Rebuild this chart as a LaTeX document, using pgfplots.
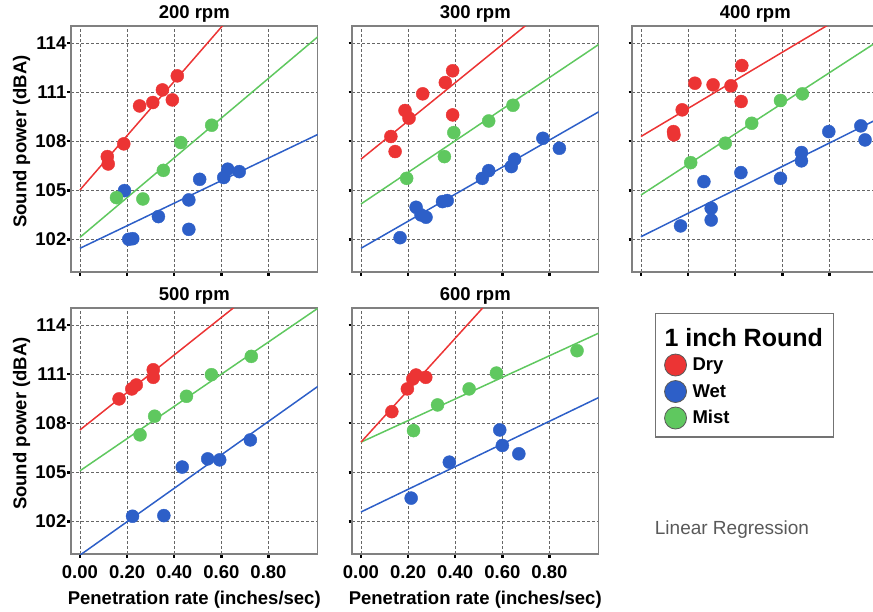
\documentclass[border=0pt]{standalone}
\usepackage{fontspec}
\setmainfont{Liberation Sans}
\usepackage{pgfplots}
\pgfplotsset{compat=1.18}
\definecolor{dry}{RGB}{236,52,52}
\definecolor{wet}{RGB}{45,95,200}
\definecolor{mist}{RGB}{95,200,95}
\newcommand\lbl{\fontsize{18.5}{21}\selectfont\bfseries}

\pgfplotsset{
  panel/.style={
    scale only axis, width=246.5pt, height=246pt, anchor=north west,
    xmin=-0.038, xmax=1.008, ymin=100, ymax=115.05,
    xtick={0,0.2,0.4,0.6,0.8}, ytick={102,105,108,111,114},
    xticklabels={,,,,}, yticklabels={,,,,},
    grid=major,
    major grid style={draw=black!60, line width=0.8pt, dash pattern=on 3pt off 2pt},
    axis line style={draw=black!50, line width=1.2pt},
    tick pos=left, tick align=outside, major tick length=3.5pt,
    tick style={black, line width=2.5pt},
    tick label style={font=\lbl},
    yticklabel style={inner sep=1pt},
    xticklabel style={yshift=-5pt},
    title style={font=\lbl, at={(0.5,1)}, anchor=base, yshift=1.5pt, inner sep=0pt},
    ylabel style={font=\lbl, at={(axis description cs:-0.2,0.53)}, anchor=center},
    xlabel style={font=\lbl, at={(axis description cs:0.5,0)}, anchor=center, yshift=-46pt},
  },
  xlab/.style={xticklabels={0.00,0.20,0.40,0.60,0.80}, xlabel={Penetration rate (inches/sec)}},
  ylab/.style={yticklabels={102,105,108,111,114}, ylabel={Sound power (dBA)}},
  pts/.style={forget plot, only marks, mark=*, mark size=6.5pt, mark options={draw=#1, fill=#1}},
  fit/.style={forget plot, no marks, draw=#1, line width=1.5pt},
}

\begin{document}
\begin{tikzpicture}
\useasboundingbox (0,0) rectangle (873pt,-611pt);

% 200 rpm
\begin{axis}[panel, ylab, at={(71pt,-26pt)}, title={200 rpm}]
\addplot[fit=wet] coordinates {(0,101.45) (1.01,108.42)};
\addplot[fit=mist] coordinates {(0,102.12) (1.01,114.40)};
\addplot[fit=dry] coordinates {(0,105.02) (1.01,121.79)};
\addplot[pts=wet] coordinates {(0.189,104.98)(0.207,102.0)(0.224,102.04)(0.333,103.39)(0.462,104.41)(0.462,102.61)(0.508,105.67)(0.610,105.78)(0.627,106.29)(0.676,106.14)};
\addplot[pts=mist] coordinates {(0.155,104.55)(0.267,104.47)(0.354,106.22)(0.428,107.92)(0.559,108.98)};
\addplot[pts=dry] coordinates {(0.116,107.06)(0.120,106.61)(0.186,107.84)(0.253,110.16)(0.309,110.37)(0.350,111.14)(0.392,110.53)(0.413,112.0)};
\end{axis}

% 300 rpm
\begin{axis}[panel, at={(352pt,-26pt)}, title={300 rpm}]
\addplot[fit=wet] coordinates {(0,101.45) (1.01,109.81)};
\addplot[fit=mist] coordinates {(0,104.16) (1.01,113.93)};
\addplot[fit=dry] coordinates {(0,106.9) (1.01,118.72)};
\addplot[pts=wet] coordinates {(0.166,102.1)(0.234,103.96)(0.255,103.49)(0.276,103.35)(0.346,104.31)(0.366,104.37)(0.515,105.73)(0.542,106.2)(0.638,106.45)(0.652,106.9)(0.772,108.18)(0.842,107.57)};
\addplot[pts=mist] coordinates {(0.194,105.73)(0.354,107.06)(0.394,108.53)(0.542,109.24)(0.645,110.2)};
\addplot[pts=dry] coordinates {(0.127,108.29)(0.145,107.37)(0.187,109.88)(0.204,109.41)(0.262,110.9)(0.358,111.59)(0.389,112.31)(0.389,109.61)};
\end{axis}

% 400 rpm
\begin{axis}[panel, at={(632pt,-26pt)}, title={400 rpm}]
\addplot[fit=wet] coordinates {(0,102.16) (1.01,109.4)};
\addplot[fit=mist] coordinates {(0,104.71) (1.01,114.16)};
\addplot[fit=dry] coordinates {(0,108.29) (1.01,116.97)};
\addplot[pts=wet] coordinates {(0.168,102.82)(0.267,105.53)(0.298,103.9)(0.298,103.18)(0.424,106.08)(0.592,105.73)(0.681,107.31)(0.681,106.8)(0.797,108.59)(0.933,108.94)(0.951,108.08)};
\addplot[pts=mist] coordinates {(0.211,106.69)(0.358,107.88)(0.470,109.1)(0.592,110.49)(0.685,110.9)};
\addplot[pts=dry] coordinates {(0.138,108.59)(0.140,108.39)(0.175,109.92)(0.229,111.55)(0.306,111.45)(0.382,111.39)(0.425,110.43)(0.428,112.63)};
\end{axis}

% 500 rpm
\begin{axis}[panel, ylab, xlab, at={(71pt,-308pt)}, title={500 rpm}]
\addplot[fit=wet] coordinates {(0,99.93) (1.01,110.26)};
\addplot[fit=mist] coordinates {(0,105.09) (1.01,115.04)};
\addplot[fit=dry] coordinates {(0,107.59) (1.01,119.17)};
\addplot[pts=wet] coordinates {(0.223,102.31)(0.356,102.35)(0.434,105.32)(0.542,105.82)(0.593,105.76)(0.723,106.98)};
\addplot[pts=mist] coordinates {(0.255,107.29)(0.317,108.43)(0.452,109.65)(0.558,110.97)(0.727,112.09)};
\addplot[pts=dry] coordinates {(0.166,109.49)(0.22,110.1)(0.239,110.34)(0.311,110.81)(0.311,111.27)};
\end{axis}

% 600 rpm, carries the legend
\begin{axis}[panel, xlab, at={(352pt,-308pt)}, title={600 rpm},
  legend cell align=left,
  legend style={at={(axis description cs:1.229,0.98)}, anchor=north west,
    draw=black!55, line width=1.2pt, font=\lbl, row sep=4.5pt,
    inner xsep=9pt, inner ysep=8pt,
    /tikz/every odd column/.append style={column sep=4pt}}]
\addlegendimage{empty legend}
\addlegendentry{\hspace{-28pt}\fontsize{25}{28}\selectfont\bfseries\rule{0pt}{22.5pt}1 inch Round}
\addlegendimage{only marks, mark=*, mark size=11pt, mark options={fill=dry, draw=black!65, line width=0.8pt}}
\addlegendentry{Dry}
\addlegendimage{only marks, mark=*, mark size=11pt, mark options={fill=wet, draw=black!65, line width=0.8pt}}
\addlegendentry{Wet}
\addlegendimage{only marks, mark=*, mark size=11pt, mark options={fill=mist, draw=black!65, line width=0.8pt}}
\addlegendentry{Mist}
\addplot[fit=wet] coordinates {(0,102.57) (1.01,109.58)};
\addplot[fit=mist] coordinates {(0,106.84) (1.01,113.52)};
\addplot[fit=dry] coordinates {(0,106.84) (1.01,122.9)};
\addplot[pts=wet] coordinates {(0.213,103.42)(0.375,105.62)(0.589,107.59)(0.6,106.64)(0.67,106.13)};
\addplot[pts=mist] coordinates {(0.223,107.55)(0.325,109.12)(0.459,110.1)(0.575,111.07)(0.917,112.44)};
\addplot[pts=dry] coordinates {(0.131,108.71)(0.197,110.1)(0.22,110.71)(0.234,110.95)(0.275,110.81)};
\end{axis}

\node[font=\fontsize{19}{22}\selectfont, text=black!65] at (732pt,-530pt) {Linear Regression};
\end{tikzpicture}
\end{document}
